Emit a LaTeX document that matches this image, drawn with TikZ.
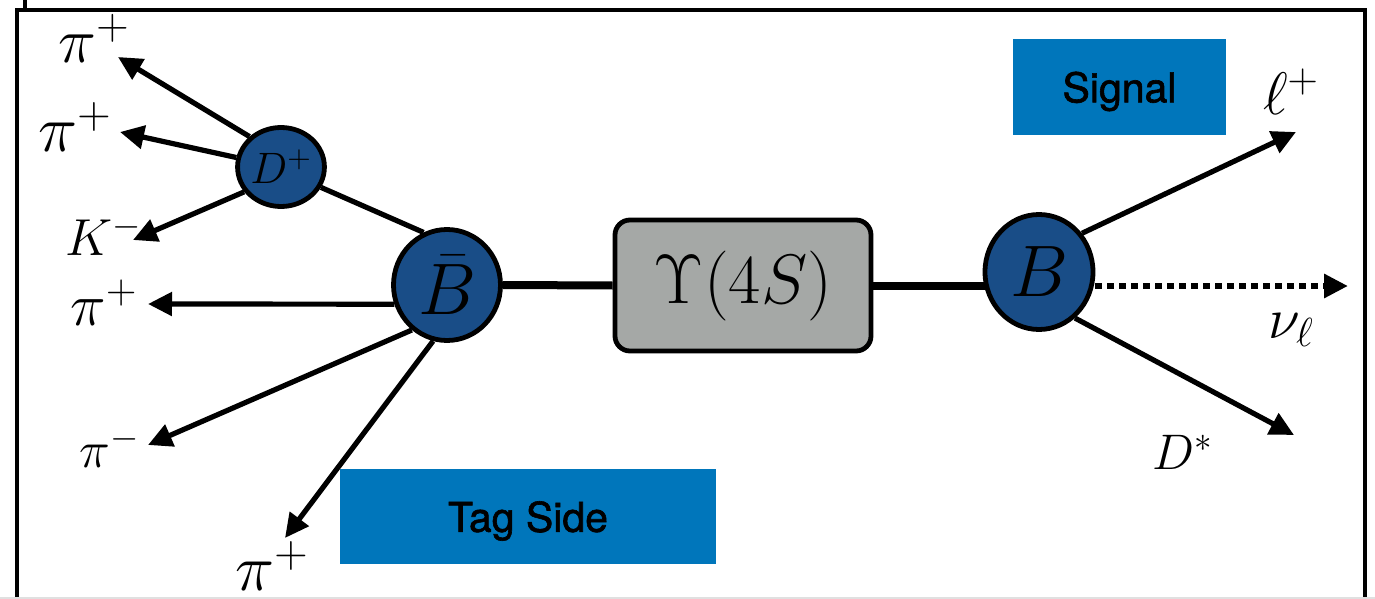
\RequirePackage{fix-cm}
\documentclass[tikz,border=0pt]{standalone}
\usepackage{amsmath}
\usepackage{fontspec}
\newfontfamily\sidefont[FakeBold=1.5]{TeX Gyre Heros}
\usepackage{tikz}
\usetikzlibrary{shapes.geometric,arrows.meta}
\definecolor{mesonblue}{RGB}{25,77,135}
\definecolor{sideblue}{RGB}{0,118,187}
\definecolor{upsgray}{RGB}{165,168,166}

\begin{document}
\begin{tikzpicture}[x=0.5pt, y=-0.5pt,
    meson/.style={ellipse, draw=black, line width=2.4pt, fill=mesonblue, inner sep=0pt},
    decay/.style={line width=2.6pt, -{Triangle[length=12pt, width=11.5pt]}},
    bond/.style={line width=4pt},
    sidebox/.style={fill=sideblue, inner sep=0pt, text depth=0pt, font=\sidefont\fontsize{20.5}{24}\selectfont},
    lbl/.style={inner sep=0pt}]
    \useasboundingbox (0,0) rectangle (1375,599);
    % frame
    \draw[line width=2pt] (17,599) -- (17,10) -- (1365,10) -- (1365,599);
    \draw[line width=2pt] (25,0) -- (25,9);
    \draw[black!12, line width=0.6pt] (0,598) -- (1375,598);

    \node[meson, minimum width=53.5pt, minimum height=55.5pt, font=\fontsize{36.5}{40}\selectfont] (Bbar) at (447,285) {$\bar{B}$};
    \node[meson, minimum width=54pt, minimum height=57.5pt, font=\fontsize{36.5}{40}\selectfont] (B) at (1039,272) {$B$};
    \node[meson, minimum width=41.5pt, minimum height=39.5pt, font=\fontsize{22}{24}\selectfont] (Dp) at (281,167) {$D^+$};
    \node[draw=black, line width=2.4pt, rounded corners=7.5pt, fill=upsgray, minimum width=128pt, minimum height=65.5pt, font=\fontsize{35}{40}\selectfont] (ups) at (743,285.5) {$\Upsilon(4S)$};

    \node[sidebox, minimum width=106.5pt, minimum height=48pt] (signal) at (1119.5,87) {Signal};
    \node[sidebox, minimum width=188pt, minimum height=47.5pt] (tag) at (528,516.5) {Tag Side};

    \node[lbl, font=\fontsize{32}{34}\selectfont] (piA) at (94,38) {$\pi^+$};
    \node[lbl, font=\fontsize{33}{35}\selectfont] (piB) at (75,127) {$\pi^+$};
    \node[lbl, font=\fontsize{26}{28}\selectfont] (kaon) at (104,235) {$K^-$};
    \node[lbl, font=\fontsize{30}{32}\selectfont] (piC) at (104,303) {$\pi^+$};
    \node[lbl, font=\fontsize{26}{28}\selectfont] (piD) at (110,447) {$\pi^-$};
    \node[lbl, font=\fontsize{33}{35}\selectfont] (piE) at (272,566) {$\pi^+$};
    \node[lbl, font=\fontsize{30}{32}\selectfont] (lep) at (1291,92) {$\ell^+$};
    \node[lbl, font=\fontsize{29}{31}\selectfont] (nu) at (1291,330) {$\nu_\ell$};
    \node[lbl, font=\fontsize{25}{27}\selectfont] (Ds) at (1183,452) {$D^*$};

    \coordinate (tpiA) at (118,57);
    \coordinate (tpiB) at (120,132);
    \coordinate (tkaon) at (133,240);
    \coordinate (tpiC) at (148,304);
    \coordinate (tpiD) at (148,445);
    \coordinate (tpiE) at (285,538);
    \coordinate (tlep) at (1296,132);
    \coordinate (tnu) at (1348,286);
    \coordinate (tDs) at (1294,435);

    \draw[decay] (Dp.136) -- (tpiA);
    \draw[decay] (Dp.168) -- (tpiB);
    \draw[decay] (Dp.214) -- (tkaon);
    \draw[line width=2.6pt] (Dp.-27) -- (Bbar.114);
    \draw[decay] (Bbar.200) -- (tpiC);
    \draw[decay] (Bbar.232) -- (tpiD);
    \draw[decay] (Bbar.256) -- (tpiE);

    \draw[bond] (Bbar.east) -- (ups.west);
    \draw[bond, shorten >=-2pt] (ups.east) -- (ups.east -| B.west);

    \draw[decay] (B.42) -- (tlep);
    \draw[decay, line width=3pt, dash pattern=on 3.5pt off 2.5pt] (tnu -| B.east) -- (tnu);
    \draw[decay] (B.-52) -- (tDs);
\end{tikzpicture}
\end{document}
